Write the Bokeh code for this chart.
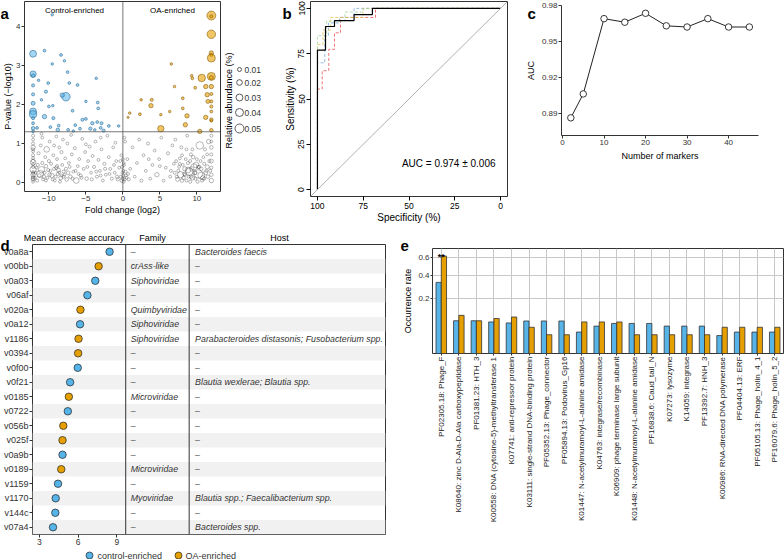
import math
from bokeh.plotting import figure
from bokeh.layouts import row, column
from bokeh.models import (ColumnDataSource, Range1d, FactorRange, FixedTicker, Label,
                          Span, Slope, CustomJSTickFormatter)
from bokeh.transform import dodge
from bokeh.core.properties import value
from bokeh.embed import file_html
from bokeh.resources import INLINE

FONT = "Liberation Sans"
BLUE = "#56B4E9"
ORANGE = "#E69F00"
INK = "#333333"

# ---------------- panel a: volcano plot ----------------
ctrl_fc = [-12.14, -12.14, -12.14, -12.14, -12.14, -12.14, -12.14, -12.14, -12.14, -12.14, -12.14, -12.14,
           -9.55, -10.6, -8.36, -9.55, -7.9, -7.47, -11.4, -10.1, -7.24, -6.13,
           -3.6, -10.4, -7.7, -8.2, -11.0, -10.0, -9.47, -5.0, -3.4, -6.8,
           -3.33, -10.6, -9.4, -5.47, -5.0, -3.47, -4.13, -8.67, -6.44, -2.89,
           -11.6, -9.8, -8.8, -7.4, -5.8, -4.4, -1.9, -0.57, -3.8, -3.0, -2.6, -6.7]
ctrl_p = [3.30, 2.78, 2.74, 2.49, 2.26, 2.03, 1.82, 1.75, 1.65, 1.52, 1.39, 1.31,
          4.30, 3.38, 3.27, 3.04, 3.12, 2.83, 2.62, 2.55, 2.55, 2.50,
          2.67, 2.33, 2.20, 2.24, 2.12, 1.95, 1.97, 2.08, 2.05, 1.84,
          1.90, 1.69, 1.65, 1.61, 1.63, 1.55, 1.52, 1.46, 1.47, 1.52,
          1.40, 1.42, 1.35, 1.35, 1.38, 1.38, 1.45, 1.45, 1.35, 1.40, 1.33, 1.32]
ctrl_ab = [0.030, 0.025, 0.008, 0.006, 0.006, 0.010, 0.030, 0.035, 0.006, 0.005, 0.008, 0.005,
           0.004, 0.005, 0.005, 0.004, 0.004, 0.005, 0.004, 0.005, 0.005, 0.005,
           0.004, 0.006, 0.045, 0.012, 0.004, 0.005, 0.004, 0.004, 0.005, 0.005,
           0.005, 0.012, 0.006, 0.006, 0.005, 0.005, 0.007, 0.005, 0.005, 0.006,
           0.005, 0.005, 0.008, 0.005, 0.005, 0.007, 0.005, 0.004, 0.004, 0.005, 0.006, 0.004]

oa_fc = [11.96, 11.96, 11.96, 11.96, 11.96, 11.96, 11.96, 11.96, 11.96, 11.96, 11.96, 11.96, 11.96, 11.96, 11.96, 11.96,
         6.55, 9.3, 9.4, 10.66, 6.98, 9.78, 11.2, 2.47, 8.1, 11.4,
         8.1, 6.33, 3.8, 0.93, 2.3, 0.7, 8.67, 5.13, 11.2, 8.45,
         5.13, 10.4, 11.5, 3.9]
oa_p = [4.28, 4.26, 3.80, 3.32, 3.27, 3.19, 2.72, 2.69, 2.46, 2.27, 2.08, 1.95, 1.82, 1.61, 1.58, 1.34,
        3.04, 2.74, 2.67, 2.68, 2.46, 2.43, 2.46, 2.12, 2.16, 2.25,
        1.90, 1.82, 1.97, 1.78, 1.75, 1.67, 1.71, 1.74, 1.67, 1.48,
        1.38, 1.31, 2.08, 2.12]
oa_ab = [0.050, 0.006, 0.045, 0.012, 0.006, 0.040, 0.040, 0.010, 0.012, 0.006, 0.006, 0.006, 0.005, 0.008, 0.004, 0.008,
         0.004, 0.004, 0.005, 0.035, 0.004, 0.005, 0.012, 0.004, 0.005, 0.012,
         0.005, 0.004, 0.012, 0.004, 0.005, 0.003, 0.012, 0.004, 0.012, 0.012,
         0.025, 0.012, 0.010, 0.006]

ns_fc = [-12.14, -12.14, -12.14, -12.14, -12.14, -12.14, -12.14, -12.14, -12.14, -12.14, -12.14, -12.14, -12.14, -12.14, -12.14, -12.14,
         -11.6, -11.3, -11.0, -10.8, -10.6, -10.4, -10.2, -10.0, -9.8, -9.6,
         -9.4, -9.2, -9.0, -8.8, -8.6, -8.4, -8.2, -8.0, -7.8, -7.6,
         -11.4, -11.1, -10.9, -10.5, -10.3, -9.9, -9.7, -9.3, -9.1, -8.9,
         -8.7, -8.5, -8.3, -8.1, -7.9, -7.7, -7.5, -7.3, -7.1, -6.9,
         -6.7, -6.5, -6.3, -6.1, -5.9, -5.7, -5.5, -5.3, -5.1, -4.9,
         -4.7, -4.5, -4.3, -4.1, -3.9, -3.7, -3.5, -3.3, -3.1, -2.9,
         -2.7, -2.5, -2.3, -2.1, -1.9, -1.7, -1.5, -1.3, -1.1, -0.9,
         -0.7, -0.5, -0.3, -0.15, -0.05, 0.0, 0.05, 0.1, 0.15, 0.2,
         0.3, 0.4, 0.6, 0.8, 1.0, 1.3, 1.6, 1.9, 2.2, 2.5,
         2.8, 3.1, 3.4, 3.7, 4.0, 4.3, 4.6, 4.9, 5.2, 5.5,
         5.8, 6.1, 6.4, 6.7, 7.0, 7.2, 7.4, 7.6, 7.8, 8.0,
         8.2, 8.4, 8.6, 8.8, 9.0, 9.2, 9.4, 9.6, 9.8, 10.0,
         10.2, 10.4, 10.6, 10.8, 11.0, 11.2, 11.4, 11.6, 11.8, 7.1,
         7.9, 8.7, 9.5, 10.1, 10.5, 11.1, 11.5, 8.1, 9.1, 6.9,
         11.96, 11.96, 11.96, 11.96, 11.96, 11.96, 11.96, 11.96,
         -11.8, -11.5, -10.7, -10.1, -9.5, -8.9, -8.3, -7.4, -6.8, -6.0,
         7.5, 8.3, 8.9, 9.3, 9.7, 10.3, 10.7, 11.3, 9.9, 8.5,
         -11.9, -11.7, -11.2, -10.9, -10.4, -9.9, -9.3, -8.6, -8.0, -7.2,
         -6.4, -5.6, -4.8, -4.2, -3.6, -3.0, -2.4, -1.8, -1.2, -0.8,
         -0.35, -0.2, -0.1, 0.0, 0.05, 0.12, 0.25, 0.35, 0.5, 0.7,
         7.3, 7.7, 8.0, 8.4, 8.8, 9.1, 9.4, 9.8, 10.2, 10.6,
         11.0, 11.4, 11.7, 10.9, 9.2, 8.6, 7.7, 6.5, 5.0, 3.5,
         -12.14, -12.14, -12.14, -12.14, -11.0, -9.0, -7.0, -5.0, -3.0, -1.0]
ns_p = [0.02, 0.08, 0.14, 0.20, 0.27, 0.33, 0.40, 0.47, 0.55, 0.63, 0.70, 0.80, 0.90, 1.00, 1.10, 1.20,
        0.05, 0.18, 0.33, 0.08, 0.25, 0.42, 0.12, 0.55, 0.30, 0.18,
        0.70, 0.05, 0.38, 0.22, 0.90, 0.12, 0.45, 0.28, 0.62, 0.08,
        0.75, 0.95, 1.15, 0.65, 0.85, 1.05, 0.48, 0.95, 0.15, 0.60,
        0.32, 0.02, 0.78, 1.10, 0.20, 0.35, 1.00, 0.50, 0.15, 0.72,
        0.28, 0.88, 0.05, 0.42, 0.60, 0.18, 1.12, 0.35, 0.78, 0.10,
        0.55, 0.92, 0.25, 0.68, 0.40, 1.05, 0.15, 0.58, 0.30, 0.85,
        0.05, 0.48, 0.20, 1.20, 0.65, 0.35, 0.10, 0.90, 0.25, 0.55,
        0.08, 0.38, 0.15, 0.05, 0.25, 0.10, 0.30, 0.02, 0.45, 1.15,
        1.05, 0.18, 0.60, 0.08, 0.35, 0.90, 0.15, 0.50, 1.10, 0.05,
        0.70, 0.30, 1.00, 0.10, 0.45, 0.82, 0.20, 0.60, 1.15, 0.05,
        0.38, 0.75, 0.15, 0.95, 0.25, 0.55, 0.08, 0.40, 0.20, 0.70,
        0.12, 0.35, 0.05, 0.50, 0.28, 0.15, 0.85, 0.40, 0.10, 0.60,
        0.22, 0.95, 0.35, 0.12, 0.48, 0.25, 0.72, 1.05, 0.30, 1.10,
        0.90, 1.20, 0.65, 0.02, 0.55, 0.85, 0.15, 0.45, 0.02, 0.48,
        0.05, 0.20, 0.38, 0.55, 0.72, 0.90, 1.05, 1.20,
        0.25, 0.45, 0.15, 0.32, 0.08, 0.42, 0.18, 0.25, 0.10, 0.22,
        0.30, 0.22, 0.15, 0.35, 0.25, 0.40, 0.05, 0.30, 0.45, 0.60,
        0.12, 0.38, 0.22, 0.50, 0.05, 0.20, 0.35, 0.26, 0.15, 0.40,
        0.30, 0.12, 0.40, 0.08, 0.28, 0.18, 0.35, 0.22, 0.45, 0.15,
        0.55, 0.70, 0.40, 0.60, 0.18, 0.50, 0.08, 0.28, 0.12, 0.22,
        0.15, 0.48, 0.05, 0.20, 0.32, 0.55, 0.12, 0.25, 0.40, 0.18,
        0.10, 0.40, 0.55, 0.65, 0.72, 0.85, 0.62, 0.30, 0.42, 0.60,
        0.11, 0.24, 0.52, 0.85, 1.25, 1.18, 1.22, 0.98, 1.15, 1.02]
ns_ab = [0.005, 0.008, 0.006, 0.012, 0.005, 0.025, 0.006, 0.005, 0.008, 0.005, 0.006, 0.005, 0.012, 0.006, 0.005, 0.006,
         0.006, 0.008, 0.025, 0.005, 0.006, 0.008, 0.005, 0.006, 0.005, 0.012,
         0.005, 0.005, 0.008, 0.006, 0.005, 0.010, 0.005, 0.006, 0.005, 0.008,
         0.006, 0.005, 0.005, 0.005, 0.020, 0.005, 0.005, 0.005, 0.006, 0.005,
         0.010, 0.005, 0.006, 0.005, 0.005, 0.006, 0.005, 0.005, 0.008, 0.005,
         0.005, 0.006, 0.020, 0.005, 0.005, 0.006, 0.005, 0.005, 0.005, 0.008,
         0.005, 0.006, 0.005, 0.005, 0.006, 0.005, 0.006, 0.005, 0.005, 0.005,
         0.005, 0.006, 0.005, 0.005, 0.005, 0.005, 0.006, 0.005, 0.005, 0.005,
         0.006, 0.005, 0.005, 0.008, 0.005, 0.006, 0.005, 0.006, 0.005, 0.005,
         0.005, 0.005, 0.005, 0.006, 0.005, 0.005, 0.005, 0.005, 0.005, 0.006,
         0.005, 0.005, 0.006, 0.005, 0.005, 0.005, 0.012, 0.005, 0.005, 0.005,
         0.005, 0.006, 0.005, 0.005, 0.006, 0.005, 0.010, 0.005, 0.025, 0.005,
         0.008, 0.012, 0.005, 0.006, 0.035, 0.008, 0.005, 0.025, 0.006, 0.005,
         0.045, 0.035, 0.008, 0.012, 0.006, 0.010, 0.005, 0.012, 0.006, 0.005,
         0.006, 0.005, 0.008, 0.006, 0.005, 0.006, 0.008, 0.005, 0.006, 0.005,
         0.012, 0.008, 0.006, 0.010, 0.006, 0.008, 0.005, 0.006,
         0.005, 0.006, 0.008, 0.006, 0.005, 0.006, 0.005, 0.008, 0.006, 0.005,
         0.006, 0.008, 0.006, 0.012, 0.010, 0.008, 0.006, 0.006, 0.020, 0.005,
         0.006, 0.005, 0.030, 0.006, 0.005, 0.008, 0.006, 0.005, 0.006, 0.005,
         0.005, 0.006, 0.005, 0.006, 0.005, 0.005, 0.006, 0.005, 0.005, 0.006,
         0.005, 0.005, 0.006, 0.005, 0.006, 0.005, 0.005, 0.006, 0.005, 0.005,
         0.006, 0.005, 0.008, 0.006, 0.020, 0.006, 0.012, 0.008, 0.006, 0.030,
         0.006, 0.010, 0.006, 0.005, 0.006, 0.005, 0.005, 0.005, 0.005, 0.005,
         0.010, 0.006, 0.020, 0.006, 0.005, 0.005, 0.005, 0.005, 0.005, 0.005]

size_keys = [0.01, 0.02, 0.03, 0.04, 0.05]
p_cutoff = 0.05

# ---------------- panel b: ROC ----------------
roc_spec = [100, 100, 95.6, 95.6, 90.7, 90.7, 80, 80, 70, 70, 0]
roc_sens = [0, 77, 77, 90, 90, 93.3, 93.3, 96.6, 96.6, 100, 100]
red_spec = [100, 100, 97.4, 97.4, 93.8, 93.8, 90.7, 90.7, 87.4, 87.4, 68.3, 68.3, 0]
red_sens = [0, 55.5, 55.5, 65.6, 65.6, 77.4, 77.4, 86.5, 86.5, 95, 95, 100, 100]
blue_spec = [100, 100, 96, 96, 94, 94, 88, 88, 80, 80, 0]
blue_sens = [0, 70, 70, 85, 85, 92, 92, 95, 95, 100, 100]
gold_spec = [100, 100, 97, 97, 93, 93, 75, 75, 0]
gold_sens = [0, 80, 80, 88, 88, 95, 95, 100, 100]
green_spec = [100, 100, 95, 95, 85, 85, 75, 75, 0]
green_sens = [0, 85, 85, 93, 93, 98, 98, 100, 100]
auc_mean, auc_sd = 0.974, 0.006

# ---------------- panel c: AUC vs markers ----------------
n_markers = [2, 5, 10, 15, 20, 25, 30, 35, 40, 45]
auc_vals = [0.886, 0.906, 0.969, 0.966, 0.9735, 0.963, 0.962, 0.969, 0.962, 0.962]

# ---------------- panel d: top viral markers ----------------
vir_ids = ["v0a8a", "v00bb", "v0a03", "v06af", "v020a", "v0a12", "v1186", "v0394", "v0f00", "v0f21",
           "v0185", "v0722", "v056b", "v025f", "v0a9b", "v0189", "v1159", "v1170", "v144c", "v07a4"]
mda = [8.44, 7.59, 7.33, 6.72, 6.18, 6.15, 6.03, 6.00, 5.97, 5.38,
       5.28, 5.20, 4.85, 4.79, 4.79, 4.69, 4.44, 4.26, 4.23, 4.05]
enriched = ["control", "OA", "control", "control", "OA", "control", "OA", "OA", "control", "control",
            "OA", "control", "OA", "OA", "control", "OA", "control", "control", "control", "control"]
family = ["\u2013", "crAss-like", "Siphoviridae", "\u2013", "Quimbyviridae", "Siphoviridae", "Siphoviridae",
          "\u2013", "\u2013", "\u2013", "Microviridae", "\u2013", "\u2013", "\u2013", "\u2013", "Microviridae",
          "\u2013", "Myoviridae", "\u2013", "\u2013"]
host = ["Bacteroides faecis", "\u2013", "\u2013", "\u2013", "\u2013", "\u2013",
        "Parabacteroides distasonis; Fusobacterium spp.", "\u2013", "\u2013", "Blautia wexlerae; Blautia spp.",
        "\u2013", "\u2013", "\u2013", "\u2013", "\u2013", "\u2013", "\u2013",
        "Blautia spp.; Faecalibacterium spp.", "\u2013", "Bacteroides spp."]
table_headers = ["Mean decrease accuracy", "Family", "Host"]
group_labels = ["control-enriched", "OA-enriched"]

# ---------------- panel e: functional occurrence ----------------
funcs = ["PF02305.18: Phage_F", "K08640: zinc D-Ala-D-Ala carboxypeptidase", "PF01381.23: HTH_3",
         "K00558: DNA (cytosine-5)-methyltransferase 1", "K07741: anti-repressor protein",
         "K03111: single-strand DNA-binding protein", "PF05352.13: Phage_connector",
         "PF05894.13: Podovirus_Gp16", "K01447: N-acetylmuramoyl-L-alanine amidase",
         "K04763: integrase/recombinase", "K06909: phage terminase large subunit",
         "K01448: N-acetylmuramoyl-L-alanine amidase", "PF16838.6: Caud_tail_N", "K07273: lysozyme",
         "K14059: integrase", "PF13392.7: HNH_3", "K00986: RNA-directed DNA polymerase",
         "PF04404.13: ERF", "PF05105.13: Phage_holin_4_1", "PF16079.6: Phage_holin_5_2"]
ctrl_rate = [0.33, 0.070, 0.070, 0.065, 0.061, 0.069, 0.069, 0.069, 0.030, 0.049,
             0.059, 0.059, 0.059, 0.049, 0.049, 0.049, 0.021, 0.030, 0.030, 0.030]
oa_rate = [0.62, 0.095, 0.070, 0.080, 0.087, 0.045, 0.023, 0.023, 0.065, 0.065,
           0.065, 0.023, 0.023, 0.023, 0.023, 0.023, 0.045, 0.045, 0.045, 0.045]
signif = ["**"] + [""] * 19

panel_tags = ["a", "b", "c", "d", "e"]


def dot_size(ab):
    return [40 * math.sqrt(v) for v in ab]


def style_axes(p, tick_size="8px", label_size="9px", color=INK, tick_out=3):
    for ax in p.axis:
        ax.major_label_text_font = FONT
        ax.major_label_text_font_size = tick_size
        ax.major_label_text_color = color
        ax.axis_label_text_font = FONT
        ax.axis_label_text_font_size = label_size
        ax.axis_label_text_font_style = "normal"
        ax.axis_label_text_color = "black"
        ax.minor_tick_line_color = None
        ax.major_tick_in = 0
        ax.major_tick_out = tick_out
        ax.major_tick_line_color = color
        ax.axis_line_color = None
        ax.major_label_standoff = 1
        ax.axis_label_standoff = 1


def inner_label(p, txt, x, y, size="9px", align="left"):
    # text placed inside a plot frame, in pixels from the frame's bottom-left corner
    p.add_layout(Label(x=x, y=y, x_units="screen", y_units="screen", text=txt,
                       text_font=FONT, text_font_size=size, text_align=align,
                       text_baseline="middle", text_color="black"))


def new_fig(w, h, **kw):
    p = figure(width=w, height=h, output_backend="svg", toolbar_location=None, **kw)
    p.frame_align = False
    p.background_fill_color = "white"
    p.border_fill_color = "white"
    return p


# ======== a ========
pa = new_fig(265, 225, x_range=Range1d(-13.3, 13.2), y_range=Range1d(-0.23, 4.64),
             min_border_left=22, min_border_right=45, min_border_top=1, min_border_bottom=34)
pa.grid.visible = False
pa.outline_line_color = INK
pa.xaxis.ticker = FixedTicker(ticks=[-10, -5, 0, 5, 10])
pa.yaxis.ticker = FixedTicker(ticks=[0, 1, 2, 3, 4])
pa.xaxis.axis_label = "Fold change (log2)"
pa.yaxis.axis_label = "P-value (\u2212log10)"
style_axes(pa)
pa.yaxis.axis_label_standoff = 0
pa.xaxis.formatter = CustomJSTickFormatter(code="return tick < 0 ? '\u2212' + Math.abs(tick) : String(tick);")
pa.add_layout(Span(location=0, dimension="height", line_color="#555555", line_width=0.8))
pa.add_layout(Span(location=-math.log10(p_cutoff), dimension="width", line_color="#555555", line_width=0.8))

pa.scatter(ns_fc, ns_p, size=dot_size(ns_ab), fill_color=None, line_color="#444444",
           line_alpha=0.75, line_width=0.5)
pa.scatter(ctrl_fc, ctrl_p, size=dot_size(ctrl_ab), fill_color=BLUE, fill_alpha=0.55,
           line_color="#1f5f8b", line_alpha=0.9, line_width=0.6)
pa.scatter(oa_fc, oa_p, size=dot_size(oa_ab), fill_color=ORANGE, fill_alpha=0.6,
           line_color="#7a5200", line_alpha=0.9, line_width=0.6)
inner_label(pa, "Control-enriched", 50, 181, size="8px", align="center")
inner_label(pa, "OA-enriched", 148, 181, size="8px", align="center")

# ======== b ========
pb = new_fig(245, 225, x_range=Range1d(103.8, -3.8), y_range=Range1d(-3.8, 103.8),
             min_border_left=45, min_border_right=3, min_border_top=1, min_border_bottom=27)
pb.grid.visible = False
pb.outline_line_color = INK
pb.xaxis.ticker = FixedTicker(ticks=[0, 25, 50, 75, 100])
pb.yaxis.ticker = FixedTicker(ticks=[0, 25, 50, 75, 100])
pb.xaxis.axis_label = "Specificity (%)"
pb.yaxis.axis_label = "Sensitivity (%)"
style_axes(pb, tick_size="8.5px", label_size="10px", color="black", tick_out=4)
pb.yaxis.major_label_orientation = "vertical"
pb.xaxis.major_label_standoff = 2
pb.yaxis.major_label_standoff = 2
pb.xaxis.axis_label_standoff = 0
pb.yaxis.axis_label_standoff = 0
pb.add_layout(Slope(gradient=-1, y_intercept=100, line_color="#b0b0b0", line_width=1))
for xs, ys, col in [(red_spec, red_sens, "#e8474a"), (blue_spec, blue_sens, "#6fa8dc"),
                    (gold_spec, gold_sens, "#e6c34a"), (green_spec, green_sens, "#9fd49f")]:
    pb.line(xs, ys, line_color=col, line_width=0.9, line_dash="3 2", line_alpha=0.85)
pb.line(roc_spec, roc_sens, line_color="black", line_width=1.2)
inner_label(pb, f"AUC = {auc_mean:.3f} \u00b1 {auc_sd:.3f}", 185, 33, size="10px", align="right")

# ======== c ========
pc = new_fig(274, 225, x_range=Range1d(-0.24, 47.2), y_range=Range1d(0.8712, 0.98),
             min_border_left=51, min_border_right=26, min_border_top=5, min_border_bottom=90)
pc.grid.visible = False
pc.outline_line_color = None
pc.xaxis.ticker = FixedTicker(ticks=[0, 10, 20, 30, 40])
pc.yaxis.ticker = FixedTicker(ticks=[0.89, 0.92, 0.95, 0.98])
pc.xaxis.axis_label = "Number of markers"
pc.yaxis.axis_label = "AUC"
style_axes(pc)
for ax in pc.axis:
    ax.axis_line_color = INK
    ax.axis_label_standoff = 3
pc.line(n_markers, auc_vals, line_color="#222222", line_width=1)
pc.scatter(n_markers, auc_vals, size=6.5, fill_color="white", line_color="#222222", line_width=0.9)

# ======== d ========
shade_ids = vir_ids[1::2]
pdd = new_fig(400, 334, x_range=Range1d(2.46, 2.46 + 356 / 13.0),
              y_range=FactorRange(factors=list(reversed(vir_ids)), range_padding=0),
              min_border_left=29, min_border_right=15, min_border_top=19, min_border_bottom=25)
pdd.extra_x_ranges = {"tbl": Range1d(0, 356)}
pdd.grid.visible = False
pdd.outline_line_color = INK
pdd.xaxis.ticker = FixedTicker(ticks=[3, 6, 9])
style_axes(pdd, tick_size="8.5px")
pdd.yaxis.major_label_text_font_size = "9px"
pdd.hbar(y=shade_ids, left=0, right=356, height=1, x_range_name="tbl",
         fill_color="#f1f1f1", line_color=None)
pdd.segment(x0=[94, 158], x1=[94, 158], y0=[0, 0], y1=[20, 20], x_range_name="tbl",
            line_color=INK, line_width=1)
tbl_src = ColumnDataSource(dict(id=vir_ids, fam=family, host=host))
pdd.text(x=99, y="id", text="fam", source=tbl_src, x_range_name="tbl", text_font=value(FONT),
         text_font_size=value("8.8px"), text_font_style="italic", text_baseline="middle", text_color=INK)
pdd.text(x=164, y="id", text="host", source=tbl_src, x_range_name="tbl", text_font=value(FONT),
         text_font_size=value("8.8px"), text_font_style="italic", text_baseline="middle", text_color=INK)
ctrl_src = ColumnDataSource(dict(id=[i for i, g in zip(vir_ids, enriched) if g == "control"],
                                 v=[m for m, g in zip(mda, enriched) if g == "control"]))
oa_src = ColumnDataSource(dict(id=[i for i, g in zip(vir_ids, enriched) if g == "OA"],
                               v=[m for m, g in zip(mda, enriched) if g == "OA"]))
pdd.scatter("v", "id", source=ctrl_src, size=7.5, fill_color=BLUE, line_color="#222222", line_width=0.7)
pdd.scatter("v", "id", source=oa_src, size=7.5, fill_color=ORANGE, line_color="#222222", line_width=0.7)

# ======== e ========
pe = new_fig(384, 334, x_range=FactorRange(factors=funcs, range_padding=0),
             y_range=Range1d(0, math.sqrt(0.72)),
             min_border_left=29, min_border_right=1, min_border_top=23, min_border_bottom=206)
pe.outline_line_color = INK
pe.xgrid.grid_line_color = "#c8c8c8"
pe.ygrid.grid_line_color = "#c8c8c8"
pe.yaxis.ticker = FixedTicker(ticks=[math.sqrt(0.2), math.sqrt(0.4), math.sqrt(0.6)])
pe.yaxis.axis_label = "Occurrence rate"
style_axes(pe, tick_out=2)
pe.yaxis.formatter = CustomJSTickFormatter(code="return (tick*tick).toFixed(1);")
pe.xaxis.major_label_orientation = math.pi / 2
pe.xaxis.major_label_text_color = "#222222"
pe.yaxis.axis_label_standoff = 2
e_src = ColumnDataSource(dict(f=funcs, c=[math.sqrt(v) for v in ctrl_rate],
                              o=[math.sqrt(v) for v in oa_rate], s=signif))
pe.vbar(x=dodge("f", -0.15, range=pe.x_range), top="c", bottom=0, width=0.3, source=e_src,
        fill_color=BLUE, line_color="#333333", line_width=0.8)
pe.vbar(x=dodge("f", 0.15, range=pe.x_range), top="o", bottom=0, width=0.3, source=e_src,
        fill_color=ORANGE, line_color="#333333", line_width=0.8)
pe.text(x="f", y="o", text="s", source=e_src, text_font=value(FONT), text_font_size=value("9px"),
        text_font_style="bold", text_align="center", text_baseline="alphabetic", y_offset=1,
        text_color="black")

# ======== page overlay: panel tags, size key, table headers, group key ========
# transparent full-page canvas in page pixels (y grows downward), stacked over the panels
ov = figure(width=784, height=559, x_range=Range1d(0, 784), y_range=Range1d(559, 0),
            x_axis_type=None, y_axis_type=None, output_backend="svg", toolbar_location=None,
            min_border=0, margin=(-559, 0, 0, 0))
ov.frame_align = False
ov.grid.visible = False
ov.outline_line_color = None
ov.background_fill_alpha = 0
ov.border_fill_alpha = 0

ov.text(x=[0, 282, 527, 0, 400], y=[13, 13, 13, 245, 245], text=panel_tags,
        text_font=value(FONT), text_font_size=value("15px"), text_font_style="bold",
        text_baseline="alphabetic", text_color="black")

key_y = [69, 82, 97, 112, 128]
ov.scatter(x=[239] * len(size_keys), y=key_y, size=dot_size(size_keys), fill_color=None,
           line_color="#333333", line_width=0.8)
ov.text(x=[244] * len(size_keys), y=key_y, text=[f"{v:.2f}" for v in size_keys],
        text_font=value(FONT), text_font_size=value("8.5px"), text_baseline="middle", text_color=INK)
ov.text(x=[228], y=[100], text=["Relative abundance (%)"], angle=math.pi / 2,
        text_font=value(FONT), text_font_size=value("9px"), text_align="center",
        text_baseline="middle", text_color="black")

ov.text(x=[73.5, 152, 279], y=[237, 237, 237], text=table_headers,
        text_font=value(FONT), text_font_size=value("9px"), text_align="center",
        text_baseline="middle", text_color="black")

ov.scatter(x=[89, 178], y=[555, 555], size=7, fill_color=[BLUE, ORANGE], line_color="#222222",
           line_width=0.7)
ov.text(x=[97, 185], y=[555, 555], text=group_labels, text_font=value(FONT),
        text_font_size=value("9px"), text_baseline="middle", text_color=INK)

layout = column(row(pa, pb, pc), row(pdd, pe), ov)
open("out.html", "w").write(file_html(layout, INLINE))
